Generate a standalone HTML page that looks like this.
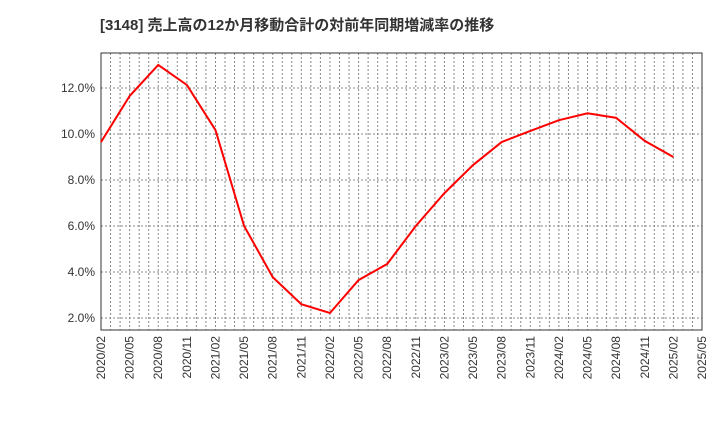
<!DOCTYPE html>
<html><head><meta charset="utf-8"><style>
body{margin:0;background:#fff;font-family:"Liberation Sans","Noto Sans CJK JP",sans-serif;}
</style></head><body>
<svg width="720" height="440" xmlns="http://www.w3.org/2000/svg">
<text x="100" y="30" font-size="15" font-weight="bold" fill="#333" font-family="Liberation Sans, Noto Sans CJK JP, sans-serif">[3148]  売上高の12か月移動合計の対前年同期増減率の推移</text>
<g id="grid"></g><g id="axes"></g>
<polyline id="line" fill="none" stroke="#ff0000" stroke-width="2"/>
</svg>
<script>
const categories=["2020/02","2020/05","2020/08","2020/11","2021/02","2021/05","2021/08","2021/11","2022/02","2022/05","2022/08","2022/11","2023/02","2023/05","2023/08","2023/11","2024/02","2024/05","2024/08","2024/11","2025/02","2025/05"];
const values=[9.65,11.65,13.0,12.13,10.17,6.0,3.78,2.6,2.22,3.65,4.35,6.0,7.43,8.65,9.65,10.13,10.6,10.9,10.7,9.7,9.0];
const yTicks=[2,4,6,8,10,12];
const L=101,R=702,T=53,B=330,yMin=1.48,yMax=13.52;
const ns="http://www.w3.org/2000/svg";
const x=i=>L+(R-L)*i/(categories.length-1);
const y=v=>B-(v-yMin)/(yMax-yMin)*(B-T);
const grid=document.getElementById('grid'),axes=document.getElementById('axes');
function mk(tag,a,p){const e=document.createElementNS(ns,tag);for(const k in a)e.setAttribute(k,a[k]);p.appendChild(e);return e;}
for(let m=1;m<(categories.length-1)*3;m++){const xx=L+(R-L)*m/((categories.length-1)*3);
const g=mk('line',{x1:xx,x2:xx,y1:T,y2:B,stroke:'#888','stroke-dasharray':'2,2','stroke-width':1},grid);
}
yTicks.forEach(v=>{const g=mk('line',{x1:L,x2:R,y1:y(v),y2:y(v),stroke:'#888','stroke-dasharray':'2,2'},grid);

const t=mk('text',{x:L-6,y:y(v)+4,'text-anchor':'end','font-size':12,fill:'#333'},axes);t.textContent=v.toFixed(1)+'%';
});
categories.forEach((c,i)=>{const t=mk('text',{transform:`translate(${x(i)+4},${B+6}) rotate(-90)`,'text-anchor':'end','font-size':12,fill:'#333'},axes);t.textContent=c;
});
const f=mk('rect',{x:L,y:T,width:R-L,height:B-T,fill:'none',stroke:'#333'},axes);

document.getElementById('line').setAttribute('points',values.map((v,i)=>x(i)+','+y(v)).join(' '));
</script>
</body></html>
